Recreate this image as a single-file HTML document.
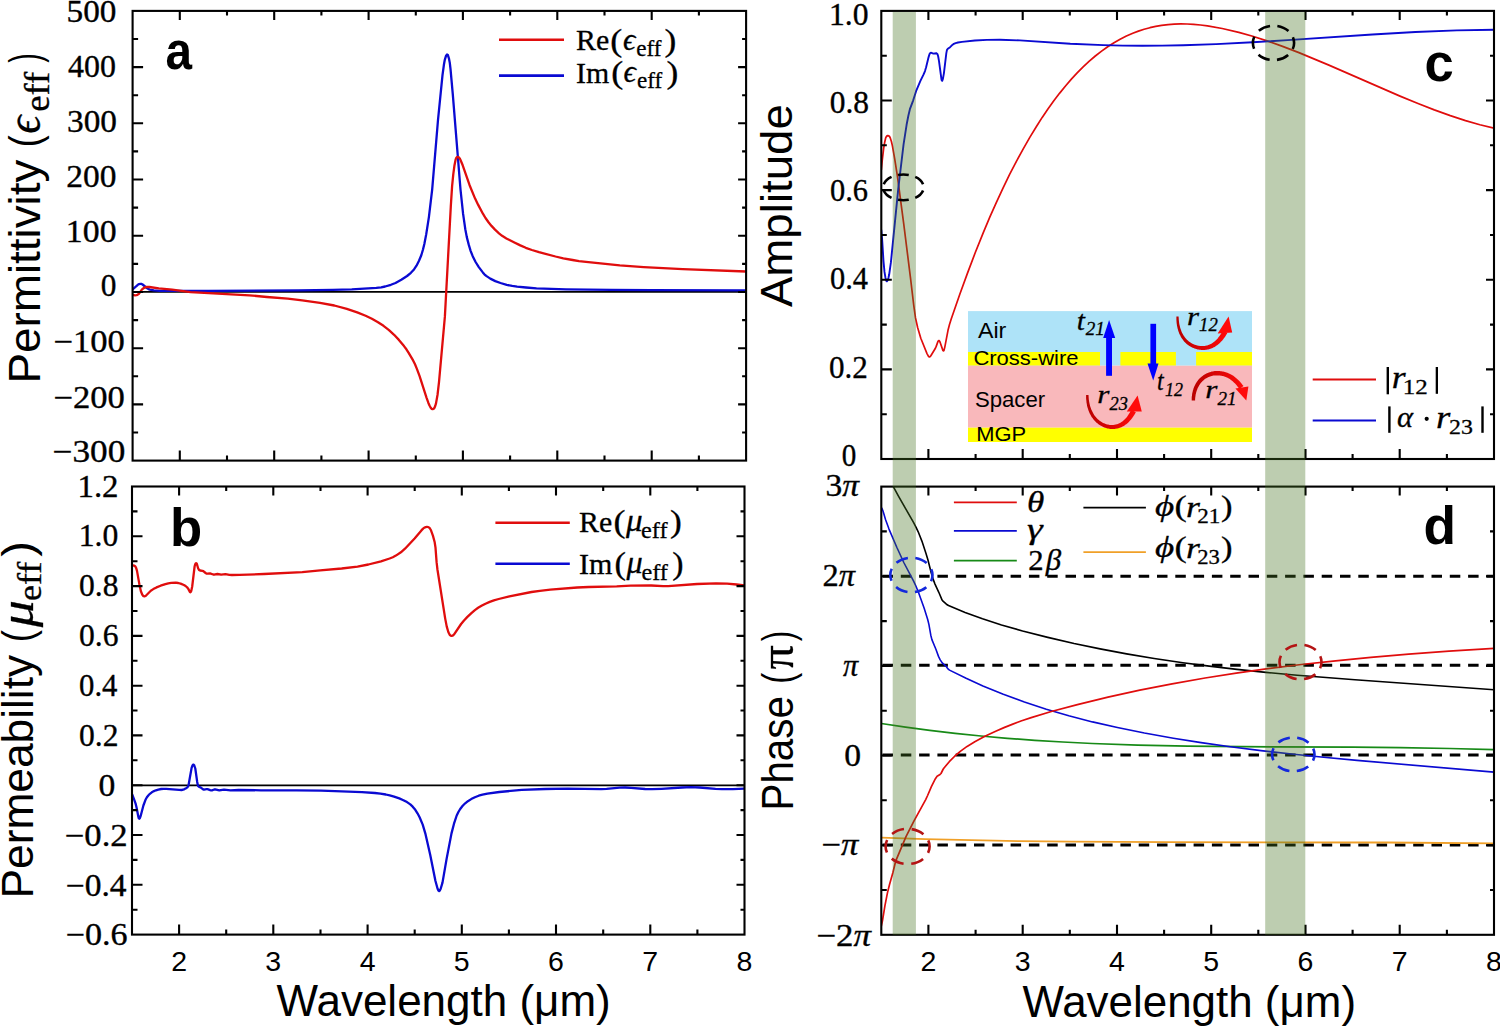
<!DOCTYPE html><html><head><meta charset="utf-8"><style>html,body{margin:0;padding:0;background:#fff;}svg{display:block;}</style></head><body>
<svg width="1500" height="1027" viewBox="0 0 1500 1027">
<rect width="1500" height="1027" fill="#fff"/>
<defs>
<clipPath id="clipa"><rect x="132.6" y="10.9" width="613.5" height="449.7"/></clipPath>
<clipPath id="clipb"><rect x="132.0" y="486.5" width="612.5" height="448.1"/></clipPath>
<clipPath id="clipc"><rect x="881.3" y="10.9" width="612.7" height="448.1"/></clipPath>
<clipPath id="clipd"><rect x="881.3" y="486.6" width="612.7" height="448.2"/></clipPath>
</defs>
<line x1="132.6" y1="291.9" x2="746.1" y2="291.9" stroke="#000" stroke-width="1.8"/>
<line x1="132.0" y1="785.3" x2="744.5" y2="785.3" stroke="#000" stroke-width="1.8"/>
<path d="M132.6,289.5 L137.8,284.8 L139.1,284.1 L140.4,283.8 L141.3,283.9 L142.6,284.5 L146.8,288.0 L148.5,289.1 L149.9,289.6 L153.8,290.4 L159.8,290.8 L208.3,290.9 L298.3,290.4 L332.8,289.9 L351.8,289.4 L376.3,287.9 L381.2,287.3 L385.1,286.5 L390.9,284.8 L395.5,283.0 L401.3,279.8 L407.1,276.0 L410.9,272.8 L414.0,269.4 L416.5,265.7 L419.0,260.8 L421.3,255.3 L423.0,249.5 L424.4,243.7 L426.2,234.4 L428.9,217.1 L432.2,189.3 L438.0,120.0 L442.5,75.2 L443.9,64.8 L444.8,59.8 L446.0,55.9 L446.7,54.8 L447.1,54.5 L447.6,54.7 L447.9,55.2 L448.9,58.3 L449.8,62.9 L450.5,68.9 L452.8,94.3 L460.5,189.5 L463.1,213.9 L465.3,229.2 L466.8,237.1 L468.8,244.9 L470.7,251.1 L472.7,256.2 L475.6,262.0 L478.8,267.1 L482.8,272.4 L484.4,274.3 L486.2,275.9 L490.3,278.6 L495.3,281.1 L500.5,283.0 L506.7,284.8 L512.2,285.9 L517.1,286.7 L526.0,287.5 L536.5,288.3 L566.0,289.3 L611.0,289.9 L651.0,290.2 L746.0,290.4" fill="none" stroke="#0a0ad2" stroke-width="2.30" stroke-linejoin="round" stroke-linecap="round" clip-path="url(#clipa)"/>
<path d="M132.6,294.8 L135.0,295.3 L136.5,295.2 L137.4,294.9 L138.9,293.8 L141.8,289.7 L143.6,288.1 L145.0,287.4 L146.4,287.0 L149.4,287.0 L158.8,288.3 L172.2,289.7 L190.5,292.1 L249.4,295.3 L266.9,297.0 L287.8,298.7 L302.2,300.3 L320.0,302.8 L334.3,305.5 L346.8,308.8 L357.2,312.4 L365.6,315.8 L371.9,318.8 L378.0,322.2 L383.5,325.8 L389.0,330.1 L394.1,334.8 L398.9,339.9 L404.0,346.1 L406.4,349.3 L408.5,352.7 L413.1,360.4 L414.9,364.0 L416.8,368.6 L419.6,376.1 L426.5,397.6 L428.3,402.7 L429.5,405.5 L430.7,407.7 L431.6,408.8 L432.7,409.2 L433.7,408.8 L434.5,407.7 L435.3,405.8 L436.0,403.4 L437.5,395.0 L439.0,382.1 L444.9,316.4 L450.8,206.5 L452.1,186.1 L453.3,174.2 L454.5,165.2 L455.7,159.3 L456.2,158.0 L457.0,157.1 L457.7,156.9 L458.8,157.3 L459.7,158.4 L460.4,159.7 L462.7,165.3 L469.6,185.2 L475.1,198.6 L478.2,204.9 L482.9,213.7 L485.5,218.0 L488.7,222.5 L491.5,225.9 L495.0,229.6 L499.0,233.3 L502.1,235.8 L506.4,238.4 L514.4,242.5 L520.3,245.4 L525.8,247.8 L531.9,250.0 L539.0,252.2 L555.5,256.5 L563.3,258.3 L572.6,260.0 L579.0,261.1 L586.0,261.9 L619.8,265.4 L643.7,267.1 L682.7,269.2 L746.0,271.5" fill="none" stroke="#e00d0d" stroke-width="2.30" stroke-linejoin="round" stroke-linecap="round" clip-path="url(#clipa)"/>
<path d="M132.2,566.0 L133.3,565.5 L134.3,565.6 L135.3,566.4 L136.2,568.1 L137.0,570.9 L139.4,584.4 L140.9,591.3 L142.2,594.5 L143.0,595.7 L143.7,596.2 L144.4,596.4 L145.6,596.0 L150.8,590.7 L153.3,589.1 L156.5,587.4 L160.6,585.7 L165.4,584.1 L168.3,583.3 L171.2,582.9 L175.7,582.7 L178.2,583.0 L180.6,583.6 L183.9,585.0 L185.6,586.0 L187.1,587.3 L188.3,588.9 L189.9,592.0 L190.4,592.3 L190.8,591.9 L191.3,590.7 L192.2,586.5 L194.6,566.5 L195.2,564.2 L195.6,563.5 L196.1,563.2 L196.5,563.4 L196.9,564.0 L198.1,568.3 L199.0,569.9 L200.1,570.5 L202.4,570.8 L203.3,571.1 L205.6,573.0 L206.4,573.5 L207.3,573.6 L210.0,573.4 L213.2,574.5 L214.1,574.6 L217.4,574.0 L221.2,574.7 L225.5,574.1 L229.4,574.8 L231.9,575.0 L239.4,574.9 L263.9,574.0 L302.3,572.1 L320.2,570.3 L341.7,568.5 L357.5,566.6 L368.4,564.5 L381.0,561.3 L389.6,558.5 L392.8,557.2 L395.9,555.6 L400.9,552.3 L405.0,548.7 L414.6,538.5 L421.4,530.4 L423.1,528.6 L424.3,527.7 L425.6,527.1 L427.0,526.8 L427.9,527.0 L428.7,527.3 L429.8,528.2 L431.0,530.3 L432.9,535.6 L434.7,542.3 L435.5,547.7 L436.6,562.2 L437.4,569.2 L445.2,618.6 L446.7,626.4 L448.4,632.2 L449.7,634.8 L450.7,635.7 L451.5,635.9 L452.7,635.6 L454.1,634.4 L461.1,624.0 L464.0,620.5 L467.4,616.9 L471.4,613.1 L474.9,610.1 L478.1,607.8 L481.5,605.8 L485.5,603.7 L489.7,601.9 L493.9,600.4 L498.7,599.0 L509.4,596.4 L531.5,592.0 L539.9,590.8 L550.3,589.7 L577.2,587.5 L588.7,587.0 L616.7,586.3 L630.7,585.6 L651.2,585.5 L663.2,586.1 L668.2,586.2 L697.1,584.0 L716.1,583.3 L727.1,583.7 L736.6,584.5 L744.5,585.3" fill="none" stroke="#e00d0d" stroke-width="2.30" stroke-linejoin="round" stroke-linecap="round" clip-path="url(#clipb)"/>
<path d="M132.2,794.5 L134.0,799.1 L135.7,803.9 L136.5,807.3 L138.4,817.0 L138.8,818.3 L139.3,818.7 L139.9,818.0 L140.6,816.2 L143.4,805.5 L145.5,799.8 L146.9,797.2 L148.5,795.2 L149.9,793.8 L151.8,792.3 L154.0,791.1 L155.9,790.3 L158.3,789.6 L161.2,789.0 L163.7,788.8 L166.2,788.8 L179.2,789.9 L181.6,790.0 L183.1,789.7 L184.5,789.1 L186.2,788.2 L187.4,787.3 L188.2,786.1 L188.7,784.3 L191.6,767.9 L192.5,765.5 L192.9,764.8 L193.4,764.6 L193.9,764.9 L194.3,765.5 L195.3,768.5 L197.2,781.9 L197.9,785.4 L198.3,786.2 L198.9,786.8 L200.9,787.6 L203.1,789.3 L203.9,789.6 L206.6,789.1 L207.5,789.2 L210.2,790.2 L211.1,790.4 L212.0,790.3 L214.2,789.5 L215.2,789.4 L219.3,790.4 L224.0,789.6 L230.5,790.3 L238.5,790.0 L261.0,790.3 L296.5,790.3 L321.0,790.7 L335.0,791.1 L361.9,792.2 L374.9,793.0 L380.4,793.7 L385.8,794.5 L389.7,795.4 L394.1,796.6 L399.3,798.4 L403.4,800.2 L407.0,802.1 L410.3,804.4 L412.7,806.7 L415.3,809.8 L417.5,813.3 L419.6,817.2 L422.7,824.6 L425.3,833.3 L430.2,854.7 L435.4,880.7 L437.6,888.8 L438.4,890.5 L438.8,890.9 L439.1,891.1 L439.7,890.6 L440.6,889.0 L442.5,882.6 L446.6,858.9 L451.5,833.4 L454.0,823.7 L456.7,815.5 L458.4,812.0 L460.2,809.0 L462.7,805.8 L465.2,803.3 L467.9,801.2 L471.2,799.1 L474.9,797.2 L478.7,795.7 L482.5,794.7 L487.4,793.6 L499.3,792.0 L521.7,789.9 L545.2,789.0 L567.7,788.7 L601.2,789.2 L606.6,788.9 L619.6,787.7 L625.1,787.5 L631.1,787.8 L645.1,789.0 L652.0,789.2 L661.5,788.8 L682.0,787.5 L691.0,787.2 L699.5,787.5 L715.5,788.8 L721.9,789.1 L732.9,789.1 L744.5,788.7" fill="none" stroke="#0a0ad2" stroke-width="2.30" stroke-linejoin="round" stroke-linecap="round" clip-path="url(#clipb)"/>
<line x1="882.5" y1="576.3" x2="1494" y2="576.3" stroke="#000" stroke-width="3" stroke-dasharray="10.5 7.8"/>
<line x1="882.5" y1="665.3" x2="1494" y2="665.3" stroke="#000" stroke-width="3" stroke-dasharray="10.5 7.8"/>
<line x1="882.5" y1="754.9" x2="1494" y2="754.9" stroke="#000" stroke-width="3" stroke-dasharray="10.5 7.8"/>
<line x1="882.5" y1="844.9" x2="1494" y2="844.9" stroke="#000" stroke-width="3" stroke-dasharray="10.5 7.8"/>
<path d="M881.3,170.0 L882.3,160.0 L883.7,148.1 L884.7,142.2 L885.6,138.2 L886.2,136.9 L887.0,135.9 L887.7,135.6 L888.8,135.9 L889.5,136.5 L890.2,137.7 L891.4,141.5 L892.4,145.9 L894.7,158.8 L897.4,176.1 L903.7,223.6 L910.4,277.2 L913.7,305.0 L915.5,317.9 L917.7,327.7 L920.8,338.2 L927.0,353.6 L928.5,356.3 L929.1,356.8 L929.6,356.9 L930.1,356.6 L930.7,356.0 L935.1,348.8 L936.2,346.4 L937.9,341.6 L938.7,340.5 L939.2,340.6 L940.0,342.0 L942.9,350.4 L943.4,350.9 L943.7,350.8 L944.0,350.4 L944.8,347.1 L948.0,330.3 L949.5,324.5 L951.3,318.8 L959.8,294.2 L967.5,273.1 L975.3,252.5 L983.3,232.6 L989.9,216.9 L996.4,202.3 L1003.0,188.2 L1009.5,174.7 L1016.4,161.4 L1023.1,149.1 L1029.8,137.4 L1036.6,126.3 L1042.2,117.4 L1048.1,108.8 L1054.0,100.6 L1059.7,93.1 L1065.7,85.7 L1071.6,78.9 L1077.4,72.7 L1083.4,66.7 L1089.3,61.2 L1095.3,56.0 L1101.6,51.1 L1107.7,46.7 L1114.0,42.7 L1120.1,39.2 L1126.4,36.0 L1132.8,33.2 L1138.4,31.1 L1144.1,29.2 L1149.9,27.7 L1155.7,26.4 L1161.6,25.4 L1168.1,24.6 L1174.1,24.1 L1180.6,23.9 L1187.1,24.0 L1193.6,24.3 L1200.5,25.0 L1207.5,25.8 L1222.2,28.5 L1238.8,32.4 L1252.7,36.3 L1267.0,40.9 L1282.6,46.4 L1298.9,52.6 L1328.9,65.1 L1400.0,96.1 L1418.0,103.5 L1434.3,109.9 L1450.3,115.6 L1465.5,120.6 L1479.9,124.7 L1494.0,128.2" fill="none" stroke="#e00d0d" stroke-width="1.70" stroke-linejoin="round" stroke-linecap="round" clip-path="url(#clipc)"/>
<path d="M881.3,230.0 L882.2,240.5 L883.5,261.4 L884.5,271.9 L885.4,277.4 L886.2,280.5 L886.5,281.1 L886.9,281.3 L887.3,280.9 L887.9,279.8 L888.6,277.3 L889.2,274.3 L890.9,262.4 L898.3,188.3 L903.6,144.1 L906.6,124.8 L908.4,115.5 L909.9,109.2 L913.2,100.3 L916.4,90.3 L920.3,81.1 L923.6,74.4 L925.0,71.1 L926.1,67.3 L928.6,57.1 L929.4,54.5 L930.0,53.2 L930.8,52.7 L933.4,53.6 L936.3,53.2 L936.9,53.5 L937.6,54.4 L938.2,56.5 L939.0,61.2 L941.4,78.9 L941.8,80.5 L942.0,80.8 L942.2,80.8 L942.9,78.9 L943.9,73.3 L946.3,53.4 L946.9,50.1 L947.8,48.8 L950.1,47.2 L952.6,44.7 L953.8,43.9 L955.6,43.1 L958.0,42.5 L962.0,41.9 L974.9,40.5 L986.9,39.9 L999.9,39.8 L1019.9,40.4 L1070.3,43.7 L1103.3,45.1 L1122.8,45.6 L1142.3,45.7 L1162.2,45.6 L1183.2,45.2 L1216.2,44.1 L1252.7,42.3 L1287.6,40.1 L1372.4,34.5 L1415.4,32.0 L1456.8,30.4 L1494.0,29.7" fill="none" stroke="#0a0ad2" stroke-width="1.90" stroke-linejoin="round" stroke-linecap="round" clip-path="url(#clipc)"/>
<path d="M881.3,723.5 L905.5,727.2 L929.8,730.4 L955.1,733.4 L981.0,736.0 L1007.4,738.3 L1034.8,740.3 L1062.8,742.0 L1092.2,743.5 L1137.7,745.1 L1187.7,746.1 L1242.2,746.7 L1353.2,747.2 L1400.2,747.6 L1449.7,748.5 L1494.0,749.7" fill="none" stroke="#178a17" stroke-width="1.70" stroke-linejoin="round" stroke-linecap="round" clip-path="url(#clipd)"/>
<path d="M881.3,837.7 L925.3,839.1 L971.3,840.2 L1019.8,841.1 L1071.8,841.7 L1166.8,842.2 L1387.8,842.5 L1494.0,843.4" fill="none" stroke="#f0a028" stroke-width="1.80" stroke-linejoin="round" stroke-linecap="round" clip-path="url(#clipd)"/>
<path d="M890.5,482.0 L893.3,486.7 L898.6,496.4 L913.5,522.4 L916.1,527.3 L918.2,531.8 L921.9,541.1 L926.0,553.4 L927.9,559.7 L931.2,572.7 L933.2,579.4 L935.0,584.1 L938.8,592.3 L942.1,600.1 L943.0,601.2 L946.4,604.2 L948.5,605.5 L965.1,612.4 L982.5,618.8 L1001.5,624.9 L1022.6,631.0 L1047.8,637.4 L1074.1,643.5 L1100.1,648.9 L1126.6,653.9 L1154.2,658.5 L1182.9,662.7 L1209.2,666.1 L1237.0,669.4 L1265.9,672.4 L1297.2,675.2 L1355.0,679.8 L1494.0,689.7" fill="none" stroke="#000" stroke-width="1.60" stroke-linejoin="round" stroke-linecap="round" clip-path="url(#clipd)"/>
<path d="M881.3,507.5 L882.3,509.2 L883.0,511.0 L885.6,519.7 L889.0,529.1 L896.9,547.5 L903.8,562.5 L913.6,581.1 L916.1,586.5 L918.7,593.0 L924.1,608.1 L927.7,619.5 L928.9,624.4 L930.8,635.2 L931.9,639.6 L935.9,649.3 L938.5,656.4 L940.2,659.9 L942.5,663.2 L945.9,666.1 L948.0,668.9 L949.5,670.1 L966.1,678.3 L982.9,685.9 L1003.3,694.3 L1024.4,702.0 L1046.3,709.2 L1068.8,715.8 L1092.5,721.9 L1117.4,727.5 L1144.4,733.0 L1173.4,738.2 L1201.1,742.6 L1230.3,746.7 L1261.0,750.6 L1293.8,754.3 L1323.7,757.3 L1357.0,760.4 L1494.0,772.1" fill="none" stroke="#0a0ad2" stroke-width="1.60" stroke-linejoin="round" stroke-linecap="round" clip-path="url(#clipd)"/>
<path d="M881.3,926.0 L882.5,920.6 L884.9,905.8 L887.5,892.6 L889.6,884.3 L893.0,872.3 L895.1,863.5 L896.1,860.2 L906.0,836.7 L913.9,821.1 L925.7,799.6 L927.6,795.5 L931.5,786.3 L935.4,778.7 L937.1,776.3 L940.0,774.5 L941.0,773.5 L943.0,769.5 L943.8,768.2 L949.3,761.7 L954.9,756.0 L960.6,751.1 L967.1,746.4 L974.8,741.8 L984.9,736.3 L995.7,731.2 L1004.0,727.6 L1012.8,724.1 L1021.7,720.8 L1031.2,717.6 L1051.3,711.5 L1077.4,704.6 L1108.0,697.2 L1139.8,690.2 L1172.1,683.8 L1205.1,678.0 L1236.2,673.1 L1267.9,668.7 L1301.2,664.5 L1335.5,660.8 L1370.8,657.4 L1408.7,654.2 L1449.1,651.2 L1494.0,648.4" fill="none" stroke="#e00d0d" stroke-width="1.70" stroke-linejoin="round" stroke-linecap="round" clip-path="url(#clipd)"/>
<rect x="132.6" y="10.9" width="613.5" height="449.7" fill="none" stroke="#000" stroke-width="2.1"/>
<path d="M179.8,460.6v-10.0M179.8,10.9v9.0M274.2,460.6v-10.0M274.2,10.9v9.0M368.6,460.6v-10.0M368.6,10.9v9.0M462.9,460.6v-10.0M462.9,10.9v9.0M557.3,460.6v-10.0M557.3,10.9v9.0M651.7,460.6v-10.0M651.7,10.9v9.0M227.0,460.6v-5.0M227.0,10.9v4.5M321.4,460.6v-5.0M321.4,10.9v4.5M415.8,460.6v-5.0M415.8,10.9v4.5M510.1,460.6v-5.0M510.1,10.9v4.5M604.5,460.6v-5.0M604.5,10.9v4.5M698.9,460.6v-5.0M698.9,10.9v4.5M132.6,67.1h10.5M746.1,67.1h-8.0M132.6,123.3h10.5M746.1,123.3h-8.0M132.6,179.5h10.5M746.1,179.5h-8.0M132.6,235.8h10.5M746.1,235.8h-8.0M132.6,292.0h10.5M746.1,292.0h-8.0M132.6,348.2h10.5M746.1,348.2h-8.0M132.6,404.4h10.5M746.1,404.4h-8.0M132.6,39.0h5.5M746.1,39.0h-4.0M132.6,95.2h5.5M746.1,95.2h-4.0M132.6,151.4h5.5M746.1,151.4h-4.0M132.6,207.6h5.5M746.1,207.6h-4.0M132.6,263.9h5.5M746.1,263.9h-4.0M132.6,320.1h5.5M746.1,320.1h-4.0M132.6,376.3h5.5M746.1,376.3h-4.0M132.6,432.5h5.5M746.1,432.5h-4.0" stroke="#000" stroke-width="2.1" fill="none"/>
<rect x="132.0" y="486.5" width="612.5" height="448.1" fill="none" stroke="#000" stroke-width="2.1"/>
<path d="M179.1,934.6v-10.0M179.1,486.5v9.0M273.3,934.6v-10.0M273.3,486.5v9.0M367.6,934.6v-10.0M367.6,486.5v9.0M461.8,934.6v-10.0M461.8,486.5v9.0M556.0,934.6v-10.0M556.0,486.5v9.0M650.3,934.6v-10.0M650.3,486.5v9.0M226.2,934.6v-5.0M226.2,486.5v4.5M320.5,934.6v-5.0M320.5,486.5v4.5M414.7,934.6v-5.0M414.7,486.5v4.5M508.9,934.6v-5.0M508.9,486.5v4.5M603.2,934.6v-5.0M603.2,486.5v4.5M697.4,934.6v-5.0M697.4,486.5v4.5M132.0,536.3h10.5M744.5,536.3h-8.0M132.0,586.1h10.5M744.5,586.1h-8.0M132.0,635.9h10.5M744.5,635.9h-8.0M132.0,685.7h10.5M744.5,685.7h-8.0M132.0,735.4h10.5M744.5,735.4h-8.0M132.0,785.2h10.5M744.5,785.2h-8.0M132.0,835.0h10.5M744.5,835.0h-8.0M132.0,884.8h10.5M744.5,884.8h-8.0M132.0,511.4h5.5M744.5,511.4h-4.0M132.0,561.2h5.5M744.5,561.2h-4.0M132.0,611.0h5.5M744.5,611.0h-4.0M132.0,660.8h5.5M744.5,660.8h-4.0M132.0,710.5h5.5M744.5,710.5h-4.0M132.0,760.3h5.5M744.5,760.3h-4.0M132.0,810.1h5.5M744.5,810.1h-4.0M132.0,859.9h5.5M744.5,859.9h-4.0M132.0,909.7h5.5M744.5,909.7h-4.0" stroke="#000" stroke-width="2.1" fill="none"/>
<rect x="881.3" y="10.9" width="612.7" height="448.1" fill="none" stroke="#000" stroke-width="2.1"/>
<path d="M928.4,459.0v-10.0M928.4,10.9v9.0M1022.7,459.0v-10.0M1022.7,10.9v9.0M1117.0,459.0v-10.0M1117.0,10.9v9.0M1211.2,459.0v-10.0M1211.2,10.9v9.0M1305.5,459.0v-10.0M1305.5,10.9v9.0M1399.7,459.0v-10.0M1399.7,10.9v9.0M975.6,459.0v-5.0M975.6,10.9v4.5M1069.8,459.0v-5.0M1069.8,10.9v4.5M1164.1,459.0v-5.0M1164.1,10.9v4.5M1258.3,459.0v-5.0M1258.3,10.9v4.5M1352.6,459.0v-5.0M1352.6,10.9v4.5M1446.9,459.0v-5.0M1446.9,10.9v4.5M881.3,100.5h10.5M1494.0,100.5h-8.0M881.3,190.1h10.5M1494.0,190.1h-8.0M881.3,279.8h10.5M1494.0,279.8h-8.0M881.3,369.4h10.5M1494.0,369.4h-8.0M881.3,55.7h5.5M1494.0,55.7h-4.0M881.3,145.3h5.5M1494.0,145.3h-4.0M881.3,235.0h5.5M1494.0,235.0h-4.0M881.3,324.6h5.5M1494.0,324.6h-4.0M881.3,414.2h5.5M1494.0,414.2h-4.0" stroke="#000" stroke-width="2.1" fill="none"/>
<rect x="881.3" y="486.6" width="612.7" height="448.2" fill="none" stroke="#000" stroke-width="2.1"/>
<path d="M928.4,934.8v-10.0M928.4,486.6v9.0M1022.7,934.8v-10.0M1022.7,486.6v9.0M1117.0,934.8v-10.0M1117.0,486.6v9.0M1211.2,934.8v-10.0M1211.2,486.6v9.0M1305.5,934.8v-10.0M1305.5,486.6v9.0M1399.7,934.8v-10.0M1399.7,486.6v9.0M975.6,934.8v-5.0M975.6,486.6v4.5M1069.8,934.8v-5.0M1069.8,486.6v4.5M1164.1,934.8v-5.0M1164.1,486.6v4.5M1258.3,934.8v-5.0M1258.3,486.6v4.5M1352.6,934.8v-5.0M1352.6,486.6v4.5M1446.9,934.8v-5.0M1446.9,486.6v4.5M881.3,576.2h10.5M1494.0,576.2h-8.0M881.3,665.9h10.5M1494.0,665.9h-8.0M881.3,755.5h10.5M1494.0,755.5h-8.0M881.3,845.2h10.5M1494.0,845.2h-8.0M881.3,531.4h5.5M1494.0,531.4h-4.0M881.3,621.1h5.5M1494.0,621.1h-4.0M881.3,710.7h5.5M1494.0,710.7h-4.0M881.3,800.3h5.5M1494.0,800.3h-4.0M881.3,890.0h5.5M1494.0,890.0h-4.0" stroke="#000" stroke-width="2.1" fill="none"/>
<rect x="892.7" y="12" width="23.2" height="922.8" fill="#467323" fill-opacity="0.357"/>
<rect x="1265.2" y="12" width="40.1" height="922.8" fill="#467323" fill-opacity="0.357"/>
<ellipse cx="903.4" cy="187.4" rx="20.3" ry="12.9" fill="none" stroke="#000" stroke-width="2.6" pathLength="60" stroke-dasharray="6.2 3.8" stroke-dashoffset="8.10"/>
<ellipse cx="1273.5" cy="42.9" rx="20.6" ry="17.2" fill="none" stroke="#000" stroke-width="2.6" pathLength="60" stroke-dasharray="6.2 3.8" stroke-dashoffset="3.00"/>
<ellipse cx="911.4" cy="575.0" rx="21.1" ry="17.3" fill="none" stroke="#1428dc" stroke-width="2.6" pathLength="60" stroke-dasharray="6.2 3.8" stroke-dashoffset="3.00"/>
<ellipse cx="1293.3" cy="754.4" rx="21.2" ry="16.9" fill="none" stroke="#1428dc" stroke-width="2.6" pathLength="60" stroke-dasharray="6.2 3.8" stroke-dashoffset="3.00"/>
<ellipse cx="907.6" cy="846.4" rx="22.0" ry="17.6" fill="none" stroke="#b41414" stroke-width="2.6" pathLength="60" stroke-dasharray="6.2 3.8" stroke-dashoffset="3.00"/>
<ellipse cx="1300.5" cy="662.0" rx="21.0" ry="17.3" fill="none" stroke="#b41414" stroke-width="2.6" pathLength="60" stroke-dasharray="6.2 3.8" stroke-dashoffset="3.00"/>
<text x="66.57" y="21.5" font-family="Liberation Serif" font-size="31.0" textLength="49.86" lengthAdjust="spacingAndGlyphs" stroke="#000" stroke-width="0.35">500</text>
<text x="68.00" y="76.6" font-family="Liberation Serif" font-size="31.0" textLength="47.90" lengthAdjust="spacingAndGlyphs" stroke="#000" stroke-width="0.35">400</text>
<text x="66.99" y="131.8" font-family="Liberation Serif" font-size="31.0" textLength="49.96" lengthAdjust="spacingAndGlyphs" stroke="#000" stroke-width="0.35">300</text>
<text x="66.39" y="187.2" font-family="Liberation Serif" font-size="31.0" textLength="50.17" lengthAdjust="spacingAndGlyphs" stroke="#000" stroke-width="0.35">200</text>
<text x="65.86" y="241.8" font-family="Liberation Serif" font-size="31.0" textLength="50.70" lengthAdjust="spacingAndGlyphs" stroke="#000" stroke-width="0.35">100</text>
<text x="100.82" y="296.4" font-family="Liberation Serif" font-size="31.0" textLength="15.66" lengthAdjust="spacingAndGlyphs" stroke="#000" stroke-width="0.35">0</text>
<text x="53.40" y="351.9" font-family="Liberation Serif" font-size="31.0" textLength="71.44" lengthAdjust="spacingAndGlyphs" stroke="#000" stroke-width="0.35">−100</text>
<text x="53.40" y="407.6" font-family="Liberation Serif" font-size="31.0" textLength="71.44" lengthAdjust="spacingAndGlyphs" stroke="#000" stroke-width="0.35">−200</text>
<text x="52.57" y="461.6" font-family="Liberation Serif" font-size="31.0" textLength="72.69" lengthAdjust="spacingAndGlyphs" stroke="#000" stroke-width="0.35">−300</text>
<text x="77.47" y="496.7" font-family="Liberation Serif" font-size="31.0" textLength="41.04" lengthAdjust="spacingAndGlyphs" stroke="#000" stroke-width="0.35">1.2</text>
<text x="78.66" y="546.4" font-family="Liberation Serif" font-size="31.0" textLength="39.56" lengthAdjust="spacingAndGlyphs" stroke="#000" stroke-width="0.35">1.0</text>
<text x="79.00" y="596.0" font-family="Liberation Serif" font-size="31.0" textLength="39.45" lengthAdjust="spacingAndGlyphs" stroke="#000" stroke-width="0.35">0.8</text>
<text x="79.00" y="645.8" font-family="Liberation Serif" font-size="31.0" textLength="39.45" lengthAdjust="spacingAndGlyphs" stroke="#000" stroke-width="0.35">0.6</text>
<text x="79.03" y="695.5" font-family="Liberation Serif" font-size="31.0" textLength="38.41" lengthAdjust="spacingAndGlyphs" stroke="#000" stroke-width="0.35">0.4</text>
<text x="79.00" y="745.6" font-family="Liberation Serif" font-size="31.0" textLength="39.45" lengthAdjust="spacingAndGlyphs" stroke="#000" stroke-width="0.35">0.2</text>
<text x="98.56" y="795.8" font-family="Liberation Serif" font-size="31.0" textLength="16.81" lengthAdjust="spacingAndGlyphs" stroke="#000" stroke-width="0.35">0</text>
<text x="64.78" y="846.0" font-family="Liberation Serif" font-size="31.0" textLength="62.86" lengthAdjust="spacingAndGlyphs" stroke="#000" stroke-width="0.35">−0.2</text>
<text x="65.81" y="895.9" font-family="Liberation Serif" font-size="31.0" textLength="60.80" lengthAdjust="spacingAndGlyphs" stroke="#000" stroke-width="0.35">−0.4</text>
<text x="65.79" y="944.5" font-family="Liberation Serif" font-size="31.0" textLength="61.81" lengthAdjust="spacingAndGlyphs" stroke="#000" stroke-width="0.35">−0.6</text>
<text x="828.99" y="25.0" font-family="Liberation Serif" font-size="31.0" textLength="39.53" lengthAdjust="spacingAndGlyphs" stroke="#000" stroke-width="0.35">1.0</text>
<text x="829.76" y="113.3" font-family="Liberation Serif" font-size="31.0" textLength="39.28" lengthAdjust="spacingAndGlyphs" stroke="#000" stroke-width="0.35">0.8</text>
<text x="829.99" y="200.8" font-family="Liberation Serif" font-size="31.0" textLength="38.04" lengthAdjust="spacingAndGlyphs" stroke="#000" stroke-width="0.35">0.6</text>
<text x="830.01" y="289.2" font-family="Liberation Serif" font-size="31.0" textLength="37.99" lengthAdjust="spacingAndGlyphs" stroke="#000" stroke-width="0.35">0.4</text>
<text x="829.00" y="378.2" font-family="Liberation Serif" font-size="31.0" textLength="38.81" lengthAdjust="spacingAndGlyphs" stroke="#000" stroke-width="0.35">0.2</text>
<text x="841.82" y="466.1" font-family="Liberation Serif" font-size="31.0" textLength="14.55" lengthAdjust="spacingAndGlyphs" stroke="#000" stroke-width="0.35">0</text>
<text x="825.44" y="495.7" font-family="Liberation Serif" font-size="31.0" textLength="33.47" lengthAdjust="spacingAndGlyphs" stroke="#000" stroke-width="0.35">3<tspan font-style="italic">π</tspan></text>
<text x="822.48" y="585.7" font-family="Liberation Serif" font-size="31.0" textLength="32.43" lengthAdjust="spacingAndGlyphs" stroke="#000" stroke-width="0.35">2<tspan font-style="italic">π</tspan></text>
<text x="843.12" y="675.7" font-family="Liberation Serif" font-size="31.0" textLength="15.13" lengthAdjust="spacingAndGlyphs" stroke="#000" stroke-width="0.35"><tspan font-style="italic">π</tspan></text>
<text x="844.35" y="765.8" font-family="Liberation Serif" font-size="31.0" textLength="16.78" lengthAdjust="spacingAndGlyphs" stroke="#000" stroke-width="0.35">0</text>
<text x="821.49" y="855.4" font-family="Liberation Serif" font-size="31.0" textLength="36.78" lengthAdjust="spacingAndGlyphs" stroke="#000" stroke-width="0.35">−<tspan font-style="italic">π</tspan></text>
<text x="816.45" y="946.0" font-family="Liberation Serif" font-size="31.0" textLength="54.48" lengthAdjust="spacingAndGlyphs" stroke="#000" stroke-width="0.35">−2<tspan font-style="italic">π</tspan></text>
<text x="179.1" y="970.6" font-family="Liberation Sans" font-size="28.5" text-anchor="middle">2</text>
<text x="273.3" y="970.6" font-family="Liberation Sans" font-size="28.5" text-anchor="middle">3</text>
<text x="367.6" y="970.6" font-family="Liberation Sans" font-size="28.5" text-anchor="middle">4</text>
<text x="461.8" y="970.6" font-family="Liberation Sans" font-size="28.5" text-anchor="middle">5</text>
<text x="556.0" y="970.6" font-family="Liberation Sans" font-size="28.5" text-anchor="middle">6</text>
<text x="650.3" y="970.6" font-family="Liberation Sans" font-size="28.5" text-anchor="middle">7</text>
<text x="744.5" y="970.6" font-family="Liberation Sans" font-size="28.5" text-anchor="middle">8</text>
<text x="928.4" y="970.6" font-family="Liberation Sans" font-size="28.5" text-anchor="middle">2</text>
<text x="1022.7" y="970.6" font-family="Liberation Sans" font-size="28.5" text-anchor="middle">3</text>
<text x="1117.0" y="970.6" font-family="Liberation Sans" font-size="28.5" text-anchor="middle">4</text>
<text x="1211.2" y="970.6" font-family="Liberation Sans" font-size="28.5" text-anchor="middle">5</text>
<text x="1305.5" y="970.6" font-family="Liberation Sans" font-size="28.5" text-anchor="middle">6</text>
<text x="1399.7" y="970.6" font-family="Liberation Sans" font-size="28.5" text-anchor="middle">7</text>
<text x="1494.0" y="970.6" font-family="Liberation Sans" font-size="28.5" text-anchor="middle">8</text>
<text x="276.58" y="1016.20" font-family="Liberation Sans" font-size="44.00" textLength="334.14" lengthAdjust="spacingAndGlyphs">Wavelength (μm)</text>
<text x="1022.38" y="1016.60" font-family="Liberation Sans" font-size="44.00" textLength="333.64" lengthAdjust="spacingAndGlyphs">Wavelength (μm)</text>
<text transform="rotate(-90)" x="-307.10" y="792.20" font-family="Liberation Sans" font-size="44.00" textLength="202.94" lengthAdjust="spacingAndGlyphs">Amplitude</text>
<text transform="rotate(-90)" x="-810.53" y="792.60" font-family="Liberation Sans" font-size="44.00" textLength="114.47" lengthAdjust="spacingAndGlyphs">Phase</text>
<text transform="rotate(-90)" x="-683.77" y="792.60" font-family="Liberation Sans" font-size="44.00" textLength="10.93" lengthAdjust="spacingAndGlyphs">(</text>
<text transform="rotate(-90)" x="-669.42" y="793.00" font-family="Liberation Serif" font-size="48.00" stroke="#000" stroke-width="0.3" textLength="24.34" lengthAdjust="spacingAndGlyphs">π</text>
<text transform="rotate(-90)" x="-641.16" y="792.60" font-family="Liberation Sans" font-size="44.00" textLength="10.43" lengthAdjust="spacingAndGlyphs">)</text>
<text transform="rotate(-90)" x="-383.56" y="39.90" font-family="Liberation Sans" font-size="44.00" textLength="223.93" lengthAdjust="spacingAndGlyphs">Permittivity</text>
<text transform="rotate(-90)" x="-147.15" y="39.90" font-family="Liberation Sans" font-size="44.00" textLength="11.94" lengthAdjust="spacingAndGlyphs">(</text>
<text transform="rotate(-90)" x="-133.66" y="40.00" font-family="Liberation Serif" font-size="48.00" font-style="italic" stroke="#000" stroke-width="0.3" textLength="18.20" lengthAdjust="spacingAndGlyphs">ϵ</text>
<text transform="rotate(-90)" x="-111.66" y="49.40" font-family="Liberation Serif" font-size="35.00" stroke="#000" stroke-width="0.3" textLength="39.95" lengthAdjust="spacingAndGlyphs">eff</text>
<text transform="rotate(-90)" x="-62.84" y="39.90" font-family="Liberation Sans" font-size="44.00" textLength="9.55" lengthAdjust="spacingAndGlyphs">)</text>
<text transform="rotate(-90)" x="-898.54" y="33.10" font-family="Liberation Sans" font-size="44.00" textLength="243.64" lengthAdjust="spacingAndGlyphs">Permeability</text>
<text transform="rotate(-90)" x="-642.22" y="33.10" font-family="Liberation Sans" font-size="44.00" textLength="12.32" lengthAdjust="spacingAndGlyphs">(</text>
<text transform="rotate(-90)" x="-627.30" y="32.80" font-family="Liberation Serif" font-size="48.00" font-style="italic" stroke="#000" stroke-width="0.3" textLength="27.02" lengthAdjust="spacingAndGlyphs">μ</text>
<text transform="rotate(-90)" x="-601.04" y="41.40" font-family="Liberation Serif" font-size="34.00" stroke="#000" stroke-width="0.3" textLength="39.43" lengthAdjust="spacingAndGlyphs">eff</text>
<text transform="rotate(-90)" x="-556.74" y="33.10" font-family="Liberation Sans" font-size="44.00" textLength="15.71" lengthAdjust="spacingAndGlyphs">)</text>
<text x="165.57" y="69.00" font-family="Liberation Sans" font-size="53.00" font-weight="bold" textLength="26.51" lengthAdjust="spacingAndGlyphs">a</text>
<text x="169.98" y="546.00" font-family="Liberation Sans" font-size="53.00" font-weight="bold" textLength="32.18" lengthAdjust="spacingAndGlyphs">b</text>
<text x="1424.40" y="81.00" font-family="Liberation Sans" font-size="53.00" font-weight="bold" textLength="29.24" lengthAdjust="spacingAndGlyphs">c</text>
<text x="1423.47" y="543.70" font-family="Liberation Sans" font-size="53.00" font-weight="bold" textLength="32.54" lengthAdjust="spacingAndGlyphs">d</text>
<line x1="499.0" y1="39.8" x2="564.0" y2="39.8" stroke="#e00d0d" stroke-width="2.6"/>
<line x1="499.0" y1="75.6" x2="564.0" y2="75.6" stroke="#0a0ad2" stroke-width="2.6"/>
<text x="576.10" y="50.00" font-family="Liberation Serif" font-size="29.00" stroke="#000" stroke-width="0.3" textLength="33.17" lengthAdjust="spacingAndGlyphs">Re</text>
<text x="610.38" y="50.50" font-family="Liberation Serif" font-size="31.00" stroke="#000" stroke-width="0.3" textLength="12.02" lengthAdjust="spacingAndGlyphs">(</text>
<text x="623.08" y="50.40" font-family="Liberation Serif" font-size="31.00" font-style="italic" stroke="#000" stroke-width="0.3" textLength="12.33" lengthAdjust="spacingAndGlyphs">ϵ</text>
<text x="636.27" y="56.20" font-family="Liberation Serif" font-size="23.50" stroke="#000" stroke-width="0.3" textLength="25.25" lengthAdjust="spacingAndGlyphs">eff</text>
<text x="664.54" y="50.50" font-family="Liberation Serif" font-size="31.00" stroke="#000" stroke-width="0.3" textLength="11.78" lengthAdjust="spacingAndGlyphs">)</text>
<text x="575.95" y="82.60" font-family="Liberation Serif" font-size="29.00" stroke="#000" stroke-width="0.3" textLength="33.17" lengthAdjust="spacingAndGlyphs">Im</text>
<text x="611.18" y="83.00" font-family="Liberation Serif" font-size="31.00" stroke="#000" stroke-width="0.3" textLength="12.02" lengthAdjust="spacingAndGlyphs">(</text>
<text x="623.48" y="82.40" font-family="Liberation Serif" font-size="31.00" font-style="italic" stroke="#000" stroke-width="0.3" textLength="12.33" lengthAdjust="spacingAndGlyphs">ϵ</text>
<text x="637.07" y="88.20" font-family="Liberation Serif" font-size="23.50" stroke="#000" stroke-width="0.3" textLength="25.25" lengthAdjust="spacingAndGlyphs">eff</text>
<text x="666.54" y="83.00" font-family="Liberation Serif" font-size="31.00" stroke="#000" stroke-width="0.3" textLength="11.78" lengthAdjust="spacingAndGlyphs">)</text>
<line x1="495.4" y1="522.7" x2="569.8" y2="522.7" stroke="#e00d0d" stroke-width="2.6"/>
<line x1="495.4" y1="563.8" x2="569.8" y2="563.8" stroke="#0a0ad2" stroke-width="2.6"/>
<text x="579.10" y="531.80" font-family="Liberation Serif" font-size="29.00" stroke="#000" stroke-width="0.3" textLength="33.17" lengthAdjust="spacingAndGlyphs">Re</text>
<text x="613.58" y="532.30" font-family="Liberation Serif" font-size="31.00" stroke="#000" stroke-width="0.3" textLength="12.02" lengthAdjust="spacingAndGlyphs">(</text>
<text x="626.00" y="531.00" font-family="Liberation Serif" font-size="31.00" font-style="italic" stroke="#000" stroke-width="0.3" textLength="16.66" lengthAdjust="spacingAndGlyphs">μ</text>
<text x="641.03" y="537.80" font-family="Liberation Serif" font-size="23.50" stroke="#000" stroke-width="0.3" textLength="26.49" lengthAdjust="spacingAndGlyphs">eff</text>
<text x="670.14" y="532.30" font-family="Liberation Serif" font-size="31.00" stroke="#000" stroke-width="0.3" textLength="11.78" lengthAdjust="spacingAndGlyphs">)</text>
<text x="578.95" y="573.80" font-family="Liberation Serif" font-size="29.00" stroke="#000" stroke-width="0.3" textLength="33.38" lengthAdjust="spacingAndGlyphs">Im</text>
<text x="614.45" y="574.30" font-family="Liberation Serif" font-size="31.00" stroke="#000" stroke-width="0.3" textLength="11.49" lengthAdjust="spacingAndGlyphs">(</text>
<text x="626.40" y="573.30" font-family="Liberation Serif" font-size="31.00" font-style="italic" stroke="#000" stroke-width="0.3" textLength="16.23" lengthAdjust="spacingAndGlyphs">μ</text>
<text x="641.43" y="579.80" font-family="Liberation Serif" font-size="23.50" stroke="#000" stroke-width="0.3" textLength="26.49" lengthAdjust="spacingAndGlyphs">eff</text>
<text x="672.18" y="574.30" font-family="Liberation Serif" font-size="31.00" stroke="#000" stroke-width="0.3" textLength="11.27" lengthAdjust="spacingAndGlyphs">)</text>
<line x1="1312.7" y1="379.4" x2="1376.0" y2="379.4" stroke="#e00d0d" stroke-width="2.0"/>
<line x1="1312.7" y1="420.6" x2="1376.0" y2="420.6" stroke="#0a0ad2" stroke-width="2.0"/>
<rect x="1386.6" y="367" width="2.4" height="27.3"/><rect x="1435.7" y="367" width="2.3" height="26.8"/>
<text x="1391.77" y="387.70" font-family="Liberation Serif" font-size="31.00" font-style="italic" stroke="#000" stroke-width="0.3" textLength="13.90" lengthAdjust="spacingAndGlyphs">r</text>
<text x="1402.78" y="393.90" font-family="Liberation Serif" font-size="22.00" stroke="#000" stroke-width="0.3" textLength="25.00" lengthAdjust="spacingAndGlyphs">12</text>
<rect x="1388.2" y="406.4" width="2.4" height="26.4"/><rect x="1481.3" y="406.4" width="2.4" height="26.4"/>
<circle cx="1426.7" cy="418.8" r="2.1"/>
<text x="1396.98" y="427.40" font-family="Liberation Serif" font-size="29.00" font-style="italic" stroke="#000" stroke-width="0.3" textLength="16.06" lengthAdjust="spacingAndGlyphs">α</text>
<text x="1436.13" y="427.80" font-family="Liberation Serif" font-size="31.00" font-style="italic" stroke="#000" stroke-width="0.3" textLength="14.34" lengthAdjust="spacingAndGlyphs">r</text>
<text x="1449.03" y="433.60" font-family="Liberation Serif" font-size="22.00" stroke="#000" stroke-width="0.3" textLength="23.83" lengthAdjust="spacingAndGlyphs">23</text>
<line x1="953.9" y1="502.4" x2="1016.8" y2="502.4" stroke="#e00d0d" stroke-width="1.8"/>
<line x1="953.9" y1="530.8" x2="1016.8" y2="530.8" stroke="#0a0ad2" stroke-width="1.8"/>
<line x1="953.9" y1="560.6" x2="1016.8" y2="560.6" stroke="#178a17" stroke-width="1.8"/>
<line x1="1083.4" y1="507.7" x2="1145.9" y2="507.7" stroke="#000" stroke-width="1.8"/>
<line x1="1083.4" y1="552.1" x2="1145.9" y2="552.1" stroke="#f0a028" stroke-width="1.8"/>
<text x="1027.04" y="512.00" font-family="Liberation Serif" font-size="29.50" font-style="italic" stroke="#000" stroke-width="0.3" textLength="17.31" lengthAdjust="spacingAndGlyphs">θ</text>
<text x="1027.11" y="538.50" font-family="Liberation Serif" font-size="30.00" font-style="italic" stroke="#000" stroke-width="0.3" textLength="15.66" lengthAdjust="spacingAndGlyphs">γ</text>
<text x="1028.22" y="570.30" font-family="Liberation Serif" font-size="30.00" stroke="#000" stroke-width="0.3" textLength="15.38" lengthAdjust="spacingAndGlyphs">2</text>
<text x="1045.86" y="570.00" font-family="Liberation Serif" font-size="30.00" font-style="italic" stroke="#000" stroke-width="0.3" textLength="15.43" lengthAdjust="spacingAndGlyphs">β</text>
<text x="1155.06" y="516.30" font-family="Liberation Serif" font-size="30.00" font-style="italic" stroke="#000" stroke-width="0.3" textLength="19.18" lengthAdjust="spacingAndGlyphs">ϕ</text>
<text x="1174.44" y="516.30" font-family="Liberation Serif" font-size="30.00" stroke="#000" stroke-width="0.3" textLength="12.28" lengthAdjust="spacingAndGlyphs">(</text>
<text x="1185.97" y="516.90" font-family="Liberation Serif" font-size="29.00" font-style="italic" stroke="#000" stroke-width="0.3" textLength="13.90" lengthAdjust="spacingAndGlyphs">r</text>
<text x="1197.26" y="523.10" font-family="Liberation Serif" font-size="22.00" stroke="#000" stroke-width="0.3" textLength="23.13" lengthAdjust="spacingAndGlyphs">21</text>
<text x="1221.06" y="516.30" font-family="Liberation Serif" font-size="30.00" stroke="#000" stroke-width="0.3" textLength="11.53" lengthAdjust="spacingAndGlyphs">)</text>
<text x="1155.06" y="557.10" font-family="Liberation Serif" font-size="30.00" font-style="italic" stroke="#000" stroke-width="0.3" textLength="19.18" lengthAdjust="spacingAndGlyphs">ϕ</text>
<text x="1174.44" y="557.10" font-family="Liberation Serif" font-size="30.00" stroke="#000" stroke-width="0.3" textLength="12.28" lengthAdjust="spacingAndGlyphs">(</text>
<text x="1185.97" y="557.70" font-family="Liberation Serif" font-size="29.00" font-style="italic" stroke="#000" stroke-width="0.3" textLength="13.90" lengthAdjust="spacingAndGlyphs">r</text>
<text x="1197.28" y="563.90" font-family="Liberation Serif" font-size="22.00" stroke="#000" stroke-width="0.3" textLength="22.62" lengthAdjust="spacingAndGlyphs">23</text>
<text x="1221.06" y="557.10" font-family="Liberation Serif" font-size="30.00" stroke="#000" stroke-width="0.3" textLength="11.53" lengthAdjust="spacingAndGlyphs">)</text>
<rect x="968" y="311.1" width="284" height="41" fill="#aee3f8"/>
<rect x="968" y="352" width="284" height="13.7" fill="#aee3f8"/>
<rect x="968.0" y="352" width="132.0" height="13.7" fill="#ffff00"/>
<rect x="1120.4" y="352" width="55.5" height="13.7" fill="#ffff00"/>
<rect x="1196.1" y="352" width="55.9" height="13.7" fill="#ffff00"/>
<rect x="968" y="365.7" width="284" height="62" fill="#f9b8bb"/>
<rect x="968" y="427.7" width="284" height="14.3" fill="#ffff00"/>
<rect x="1106.1" y="337" width="5.9" height="38.8" fill="#0000ff"/><polygon points="1103.2,338 1115.2,338 1109.1,320" fill="#0000ff"/>
<rect x="1150.4" y="323.8" width="5.7" height="40.5" fill="#0000ff"/><polygon points="1147.5,363.4 1158.5,363.4 1153.2,380.5" fill="#0000ff"/>
<defs><linearGradient id="rg" x1="0" y1="0" x2="1" y2="0"><stop offset="0" stop-color="#b80000"/><stop offset="1" stop-color="#ff0a0a"/></linearGradient></defs>
<polygon points="1176.4,316.6 1176.4,318.2 1176.4,319.8 1176.5,321.3 1176.6,322.8 1176.8,324.3 1177.0,325.7 1177.3,327.1 1177.6,328.4 1178.0,329.7 1178.3,331.0 1178.8,332.2 1179.2,333.4 1179.7,334.5 1180.3,335.6 1180.8,336.7 1181.4,337.7 1182.1,338.7 1182.7,339.6 1183.4,340.5 1184.1,341.4 1184.9,342.2 1185.7,343.0 1186.4,343.7 1187.3,344.4 1188.1,345.1 1189.0,345.7 1189.9,346.3 1190.8,346.8 1191.7,347.3 1192.6,347.7 1193.6,348.1 1194.5,348.5 1195.5,348.8 1196.5,349.1 1197.5,349.4 1198.5,349.6 1199.5,349.7 1200.5,349.8 1201.5,349.9 1202.5,350.0 1203.3,350.0 1204.2,349.9 1205.0,349.9 1205.8,349.8 1206.6,349.7 1207.4,349.6 1208.2,349.4 1209.0,349.2 1209.7,349.0 1210.5,348.8 1211.2,348.5 1211.9,348.2 1212.6,347.9 1213.3,347.6 1214.0,347.2 1214.7,346.9 1215.3,346.5 1216.0,346.1 1216.6,345.6 1217.2,345.2 1217.8,344.7 1218.4,344.2 1219.0,343.7 1219.6,343.2 1220.1,342.7 1220.7,342.1 1221.2,341.6 1221.8,341.0 1222.3,340.4 1222.8,339.8 1223.3,339.2 1223.7,338.6 1224.2,338.0 1224.7,337.3 1225.1,336.7 1225.6,336.0 1226.0,335.3 1226.4,334.6 1226.9,334.0 1227.3,333.3 1222.7,330.7 1222.4,331.4 1222.0,332.0 1221.7,332.7 1221.3,333.3 1220.9,333.9 1220.5,334.5 1220.1,335.1 1219.7,335.7 1219.3,336.2 1218.9,336.8 1218.5,337.3 1218.1,337.8 1217.7,338.4 1217.2,338.9 1216.8,339.4 1216.3,339.8 1215.8,340.3 1215.4,340.7 1214.9,341.2 1214.4,341.6 1213.9,342.0 1213.4,342.3 1212.9,342.7 1212.4,343.1 1211.8,343.4 1211.3,343.7 1210.7,344.0 1210.2,344.3 1209.6,344.5 1209.0,344.8 1208.4,345.0 1207.8,345.2 1207.2,345.4 1206.6,345.5 1205.9,345.7 1205.3,345.8 1204.6,345.9 1203.9,346.0 1203.2,346.0 1202.5,346.0 1201.6,346.0 1200.8,346.0 1199.9,345.9 1199.1,345.8 1198.2,345.7 1197.4,345.5 1196.5,345.3 1195.7,345.1 1194.9,344.8 1194.0,344.5 1193.2,344.1 1192.4,343.7 1191.6,343.3 1190.8,342.8 1190.1,342.3 1189.3,341.8 1188.6,341.2 1187.9,340.6 1187.2,339.9 1186.5,339.3 1185.8,338.5 1185.2,337.7 1184.6,336.9 1184.0,336.1 1183.4,335.2 1182.9,334.3 1182.3,333.3 1181.8,332.3 1181.4,331.2 1181.0,330.1 1180.6,328.9 1180.2,327.7 1179.9,326.5 1179.6,325.2 1179.3,323.9 1179.1,322.5 1178.9,321.1 1178.8,319.7 1178.7,318.1 1178.6,316.6" fill="url(#rg)"/>
<polygon points="1228.6,316.4 1217.6,333.4 1232.2,332.6" fill="#ff0a0a"/>
<polygon points="1086.1,394.9 1086.1,396.5 1086.1,398.1 1086.2,399.6 1086.4,401.1 1086.5,402.6 1086.8,404.0 1087.0,405.4 1087.3,406.7 1087.7,408.0 1088.1,409.3 1088.5,410.5 1089.0,411.7 1089.5,412.9 1090.0,414.0 1090.6,415.1 1091.2,416.2 1091.8,417.2 1092.5,418.1 1093.2,419.1 1093.9,420.0 1094.7,420.8 1095.4,421.6 1096.2,422.4 1097.1,423.1 1097.9,423.8 1098.8,424.4 1099.6,425.1 1100.5,425.6 1101.5,426.1 1102.4,426.6 1103.3,427.1 1104.3,427.4 1105.2,427.8 1106.2,428.1 1107.2,428.4 1108.2,428.6 1109.2,428.8 1110.2,428.9 1111.2,429.0 1112.2,429.0 1113.0,429.0 1113.8,429.0 1114.6,428.9 1115.4,428.8 1116.1,428.7 1116.9,428.6 1117.6,428.4 1118.4,428.2 1119.1,428.0 1119.8,427.8 1120.5,427.5 1121.2,427.2 1121.9,426.9 1122.5,426.6 1123.2,426.2 1123.8,425.9 1124.5,425.5 1125.1,425.1 1125.7,424.6 1126.3,424.2 1126.9,423.7 1127.5,423.2 1128.0,422.7 1128.6,422.2 1129.1,421.7 1129.6,421.1 1130.1,420.5 1130.6,420.0 1131.1,419.4 1131.6,418.8 1132.1,418.2 1132.5,417.5 1133.0,416.9 1133.4,416.2 1133.9,415.6 1134.3,414.9 1134.7,414.2 1135.1,413.6 1135.5,412.9 1135.8,412.2 1131.2,409.8 1130.9,410.5 1130.5,411.1 1130.2,411.7 1129.9,412.4 1129.5,413.0 1129.2,413.6 1128.8,414.1 1128.4,414.7 1128.1,415.3 1127.7,415.8 1127.3,416.4 1126.9,416.9 1126.5,417.4 1126.1,417.9 1125.6,418.4 1125.2,418.8 1124.8,419.3 1124.3,419.7 1123.8,420.2 1123.4,420.6 1122.9,421.0 1122.4,421.4 1121.9,421.7 1121.4,422.1 1120.9,422.4 1120.4,422.7 1119.9,423.0 1119.4,423.3 1118.8,423.5 1118.3,423.7 1117.7,424.0 1117.1,424.2 1116.6,424.3 1116.0,424.5 1115.4,424.6 1114.8,424.7 1114.1,424.8 1113.5,424.9 1112.9,425.0 1112.2,425.0 1111.4,425.0 1110.5,425.0 1109.7,424.9 1108.9,424.8 1108.1,424.6 1107.2,424.4 1106.4,424.2 1105.6,423.9 1104.8,423.6 1103.9,423.3 1103.1,422.9 1102.3,422.5 1101.6,422.0 1100.8,421.5 1100.0,421.0 1099.3,420.4 1098.5,419.8 1097.8,419.2 1097.1,418.5 1096.4,417.8 1095.8,417.0 1095.1,416.2 1094.5,415.4 1093.9,414.5 1093.3,413.6 1092.8,412.6 1092.3,411.6 1091.8,410.5 1091.3,409.5 1090.9,408.3 1090.5,407.2 1090.1,406.0 1089.8,404.7 1089.5,403.4 1089.2,402.1 1089.0,400.8 1088.8,399.4 1088.7,397.9 1088.6,396.4 1088.5,394.9" fill="url(#rg)"/>
<polygon points="1137.6,395.4 1126.8,411.6 1141.8,411.4" fill="#ff0a0a"/>
<polygon points="1195.1,400.4 1195.1,399.2 1195.2,398.1 1195.3,397.0 1195.5,395.9 1195.6,394.8 1195.9,393.8 1196.1,392.8 1196.4,391.8 1196.7,390.8 1197.0,389.9 1197.4,388.9 1197.7,388.1 1198.2,387.2 1198.6,386.4 1199.1,385.6 1199.6,384.8 1200.1,384.0 1200.6,383.3 1201.2,382.6 1201.8,382.0 1202.4,381.3 1203.0,380.7 1203.6,380.2 1204.3,379.6 1205.0,379.1 1205.7,378.6 1206.4,378.2 1207.1,377.8 1207.8,377.4 1208.6,377.0 1209.4,376.7 1210.1,376.4 1210.9,376.2 1211.7,375.9 1212.6,375.8 1213.4,375.6 1214.2,375.5 1215.1,375.4 1215.9,375.4 1216.8,375.4 1217.6,375.4 1218.5,375.4 1219.3,375.5 1220.1,375.6 1220.8,375.7 1221.6,375.8 1222.3,376.0 1223.0,376.1 1223.7,376.3 1224.4,376.5 1225.0,376.8 1225.7,377.0 1226.3,377.3 1226.9,377.5 1227.5,377.8 1228.1,378.1 1228.7,378.4 1229.3,378.8 1229.8,379.1 1230.4,379.5 1230.9,379.9 1231.4,380.3 1231.9,380.7 1232.4,381.1 1232.9,381.5 1233.4,381.9 1233.9,382.4 1234.4,382.9 1234.8,383.3 1235.3,383.8 1235.7,384.3 1236.2,384.8 1236.6,385.3 1237.0,385.8 1237.5,386.4 1237.9,386.9 1238.3,387.4 1238.7,388.0 1239.1,388.5 1239.5,389.1 1243.5,386.1 1243.1,385.6 1242.6,385.0 1242.2,384.4 1241.7,383.8 1241.3,383.2 1240.8,382.7 1240.3,382.1 1239.8,381.6 1239.3,381.0 1238.8,380.5 1238.3,379.9 1237.7,379.4 1237.2,378.9 1236.6,378.4 1236.0,377.9 1235.4,377.4 1234.8,376.9 1234.2,376.5 1233.6,376.0 1233.0,375.6 1232.3,375.2 1231.6,374.8 1230.9,374.4 1230.2,374.0 1229.5,373.7 1228.8,373.4 1228.0,373.0 1227.3,372.8 1226.5,372.5 1225.7,372.2 1224.9,372.0 1224.0,371.8 1223.2,371.6 1222.3,371.5 1221.5,371.3 1220.6,371.2 1219.6,371.1 1218.7,371.1 1217.8,371.0 1216.8,371.0 1215.8,371.1 1214.7,371.1 1213.7,371.3 1212.7,371.4 1211.7,371.6 1210.7,371.9 1209.7,372.2 1208.8,372.5 1207.8,372.9 1206.9,373.3 1206.0,373.7 1205.1,374.2 1204.2,374.7 1203.4,375.3 1202.6,375.9 1201.8,376.5 1201.0,377.2 1200.3,377.8 1199.5,378.6 1198.8,379.3 1198.2,380.1 1197.5,381.0 1196.9,381.8 1196.3,382.7 1195.8,383.6 1195.3,384.6 1194.8,385.5 1194.3,386.5 1193.9,387.6 1193.5,388.6 1193.2,389.7 1192.8,390.8 1192.6,391.9 1192.3,393.1 1192.1,394.2 1192.0,395.4 1191.8,396.6 1191.7,397.9 1191.7,399.1 1191.7,400.4" fill="url(#rg)"/>
<polygon points="1246.3,400.6 1235.4,388.4 1248.4,386.6" fill="#ff0a0a"/>
<text x="978.00" y="337.70" font-family="Liberation Sans" font-size="21.80" textLength="28.30" lengthAdjust="spacingAndGlyphs">Air</text>
<text x="973.40" y="365.00" font-family="Liberation Sans" font-size="20.00" textLength="105.16" lengthAdjust="spacingAndGlyphs">Cross-wire</text>
<text x="974.90" y="407.20" font-family="Liberation Sans" font-size="21.80" textLength="70.21" lengthAdjust="spacingAndGlyphs">Spacer</text>
<text x="976.25" y="441.30" font-family="Liberation Sans" font-size="20.80" textLength="49.91" lengthAdjust="spacingAndGlyphs">MGP</text>
<text x="1076.88" y="329.50" font-family="Liberation Serif" font-size="28.00" font-style="italic" stroke="#000" stroke-width="0.3" textLength="8.17" lengthAdjust="spacingAndGlyphs">t</text>
<text x="1085.70" y="335.00" font-family="Liberation Serif" font-size="18.00" font-style="italic" stroke="#000" stroke-width="0.3" textLength="19.10" lengthAdjust="spacingAndGlyphs">21</text>
<text x="1186.97" y="324.80" font-family="Liberation Serif" font-size="24.70" font-style="italic" stroke="#000" stroke-width="0.3" textLength="12.01" lengthAdjust="spacingAndGlyphs">r</text>
<text x="1199.14" y="330.90" font-family="Liberation Serif" font-size="18.00" font-style="italic" stroke="#000" stroke-width="0.3" textLength="18.73" lengthAdjust="spacingAndGlyphs">12</text>
<text x="1157.12" y="390.20" font-family="Liberation Serif" font-size="28.00" font-style="italic" stroke="#000" stroke-width="0.3" textLength="6.65" lengthAdjust="spacingAndGlyphs">t</text>
<text x="1165.07" y="395.60" font-family="Liberation Serif" font-size="18.00" font-style="italic" stroke="#000" stroke-width="0.3" textLength="17.99" lengthAdjust="spacingAndGlyphs">12</text>
<text x="1205.35" y="398.40" font-family="Liberation Serif" font-size="24.70" font-style="italic" stroke="#000" stroke-width="0.3" textLength="12.12" lengthAdjust="spacingAndGlyphs">r</text>
<text x="1217.50" y="405.20" font-family="Liberation Serif" font-size="18.00" font-style="italic" stroke="#000" stroke-width="0.3" textLength="19.10" lengthAdjust="spacingAndGlyphs">21</text>
<text x="1097.35" y="403.10" font-family="Liberation Serif" font-size="24.70" font-style="italic" stroke="#000" stroke-width="0.3" textLength="12.12" lengthAdjust="spacingAndGlyphs">r</text>
<text x="1109.50" y="409.90" font-family="Liberation Serif" font-size="18.00" font-style="italic" stroke="#000" stroke-width="0.3" textLength="18.34" lengthAdjust="spacingAndGlyphs">23</text>
</svg></body></html>
